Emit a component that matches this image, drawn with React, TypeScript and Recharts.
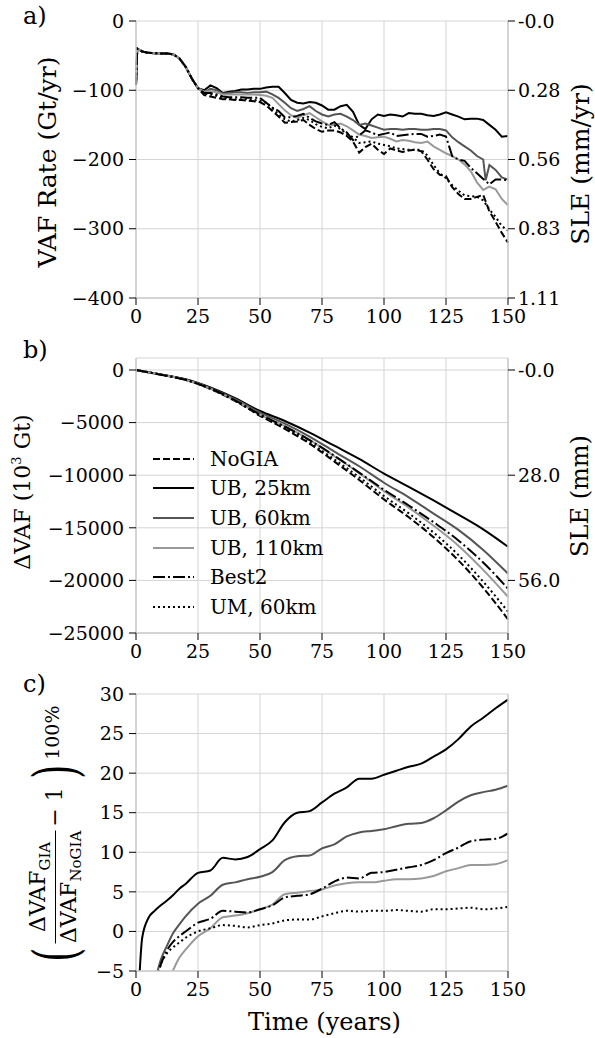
import React from "react";
import { LineChart, Line, XAxis, YAxis, CartesianGrid } from "recharts";

const FONT = "'DejaVu Serif', serif";
const SPINE = "#cccccc";
const GRID = "#d4d4d4";

// ---- panel a: VAF rate (Gt/yr) ----
const rateYears = [
  0, 0.5, 2.5, 5, 7.5, 10, 12.5, 15, 17.5, 20, 22.5, 25, 27.5, 30, 32.5, 35, 37.5, 40, 42.5, 45,
  47.5, 50, 52.5, 55, 57.5, 60, 62.5, 65, 67.5, 70, 72.5, 75, 77.5, 80, 82.5, 85, 87.5, 90, 92.5,
  95, 97.5, 100, 102.5, 105, 107.5, 110, 112.5, 115, 117.5, 120, 122.5, 125, 127.5, 130, 132.5,
  135, 137.5, 140, 141, 142.5, 145, 147.5, 150,
];
// shared start (0 - 25 yr), all runs identical there
const rateStart = [-92, -40, -44, -46, -46.5, -47, -47, -48, -54, -66, -83, -97];
const rateNoGIA = [...rateStart,
  -107, -109, -111, -113, -113, -114, -114, -115, -116, -117,
  -122, -130, -138, -147, -146, -145, -143, -150, -156, -160,
  -158, -158, -161, -166, -174, -190, -182, -177, -186, -192,
  -184, -187, -189, -187, -186, -188, -200, -214, -222, -224,
  -240, -250, -257, -257, -254, -251, null, -275, -290, -306, -320];
const rateUB25 = [...rateStart,
  -100, -93, -97, -104, -102, -101, -99, -99, -98, -98,
  -96, -95, -95, -104, -114, -118, -119, -117, -118, -122,
  -128, -128, -123, -121, -131, -150, -156, -142, -135, -137,
  -135, -136, -138, -133, -134, -134, -136, -137, -135, -132,
  -135, -138, -142, -141, -141, -143, null, -150, -157, -167, -166];
const rateUB60 = [...rateStart,
  -103, -98, -100, -105, -104, -103, -103, -104, -103, -103,
  -102, -106, -111, -118, -126, -130, -127, -123, -130, -135,
  -138, -135, -134, -138, -143, -150, -148, -151, -154, -157,
  -156, -156, -157, -156, -156, -157, -157, -156, -156, -158,
  -168, -175, -181, -187, -195, -200, -230, -208, -215, -226, -229];
const rateUB110 = [...rateStart,
  -102, -101, -103, -106, -106, -106, -106, -106, -106, -107,
  -108, -111, -120, -129, -136, -140, -136, -133, -139, -145,
  -150, -150, -148, -152, -158, -164, -166, -169, -168, -167,
  -170, -174, -172, -173, -175, -176, -174, -181, -186, -191,
  -195, -200, -207, -217, -233, -244, null, -239, -243, -257, -266];
const rateBest2 = [...rateStart,
  -104, -104, -106, -109, -110, -110, -110, -111, -111, -111,
  -118, -125, -130, -139, -139, -137, -134, -140, -145, -148,
  -150, -146, -155, -161, -172, -165, -158, -161, -165, -163,
  -161, -166, -165, -164, -163, -163, -167, -166, -164, -167,
  -195, -200, -202, -212, -220, -228, null, -236, -229, -229, -230];
const rateUM60 = [...rateStart,
  -105, -106, -108, -111, -112, -113, -113, -113, -114, -115,
  -118, -126, -135, -142, -145, -143, -140, -143, -149, -153,
  -155, -151, -156, -163, -168, -176, -175, -174, -177, -179,
  -181, -184, -185, -186, -186, -186, -194, -208, -220, -227,
  -237, -245, -252, -253, -254, -259, null, -272, -283, -296, -303];
const rateTicks = [0, -100, -200, -300, -400];
const rateSLE = ["-0.0", "0.28", "0.56", "0.83", "1.11"];

// ---- panel b: cumulative change in VAF ----
const cumYears = [0, 10, 20, 30, 40, 50, 60, 70, 80, 90, 100, 110, 120, 130, 140, 150];
const cumNoGIA = [0, -430, -930, -1800, -2950, -4350, -5600, -7000, -8700, -10450, -12300, -14000, -15900, -18100, -20700, -23700];
const cumUB25 = [0, -420, -880, -1660, -2680, -3900, -4850, -5950, -7200, -8450, -9850, -11100, -12400, -13750, -15150, -16800];
const cumUB60 = [0, -440, -910, -1720, -2770, -4050, -5100, -6330, -7760, -9150, -10720, -12100, -13650, -15200, -17100, -19350];
const cumUB110 = [0, -450, -950, -1790, -2900, -4230, -5340, -6640, -8200, -9800, -11520, -13080, -14800, -16700, -19000, -21560];
const cumBest2 = [0, -450, -930, -1770, -2880, -4230, -5370, -6670, -8150, -9750, -11380, -12880, -14470, -16200, -18300, -20780];
const cumUM60 = [0, -450, -940, -1790, -2930, -4320, -5520, -6900, -8500, -10190, -11980, -13630, -15460, -17580, -20120, -22970];
const cumTicks = [0, -5000, -10000, -15000, -20000, -25000];
const cumSLETicks = [0, -10000, -20000];
const cumSLE = ["-0.0", "28.0", "56.0"];

// ---- panel c: relative difference to NoGIA (%) ----
const ratioYears = [1, 2.5, 5, 7.5, 10, 12.5, 15, 17.5, 20, 25, 30, 35, 40, 45, 50, 55, 60, 65, 70, 75, 80, 85, 90, 95, 100, 105, 110, 115, 120, 125, 130, 135, 140, 145, 150];
const ratioUB25 = [-8, -0.8, 1.7, 2.6, 3.3, 3.9, 4.6, 5.4, 6.0, 7.4, 7.7, 9.3, 9.1, 9.4, 10.4, 11.5, 13.8, 15.0, 15.2, 16.3, 17.4, 18.2, 19.3, 19.3, 19.8, 20.3, 20.8, 21.2, 22.1, 23.0, 24.3, 25.9, 27.0, 28.2, 29.3];
const ratioUB60 = [null, null, null, -6.5, -3.6, -1.8, -0.2, 0.9, 1.9, 3.5, 4.5, 5.9, 6.2, 6.6, 6.9, 7.5, 9.0, 9.5, 9.6, 10.5, 11.0, 12.0, 12.5, 12.7, 12.9, 13.3, 13.6, 13.7, 14.3, 15.3, 16.4, 17.2, 17.6, 17.9, 18.4];
const ratioUB110 = [null, null, null, null, null, -7.0, -4.9, -3.3, -2.3, -0.6, 0.4, 1.8, 2.0, 2.3, 2.8, 3.4, 4.7, 4.9, 5.1, 5.3, 5.8, 6.1, 6.2, 6.2, 6.4, 6.6, 6.6, 6.7, 7.0, 7.6, 8.0, 8.4, 8.4, 8.5, 9.0];
const ratioBest2 = [null, null, null, -7, -4.2, -2.4, -1.3, -0.6, 0.0, 1.1, 1.6, 2.6, 2.5, 2.4, 2.8, 3.3, 4.3, 4.5, 4.7, 5.4, 6.3, 6.8, 6.7, 7.4, 7.5, 7.8, 8.1, 8.4, 9.0, 9.9, 10.6, 11.4, 11.6, 11.7, 12.4];
const ratioUM60 = [null, null, null, -7, -4.2, -2.75, -2.0, -1.4, -0.8, 0.0, 0.4, 0.8, 0.7, 0.5, 0.8, 1.0, 1.4, 1.5, 1.5, 1.9, 2.3, 2.6, 2.5, 2.6, 2.6, 2.7, 2.6, 2.5, 2.8, 2.8, 2.9, 3.0, 2.8, 2.9, 3.1];
const ratioTicks = [-5, 0, 5, 10, 15, 20, 25, 30];

const yearTicks = [0, 25, 50, 75, 100, 125, 150];

const series = [
  { key: "NoGIA", name: "NoGIA", color: "#000000", dash: "7 3" },
  { key: "UB25", name: "UB, 25km", color: "#000000", dash: undefined },
  { key: "UB60", name: "UB, 60km", color: "#555555", dash: undefined },
  { key: "UB110", name: "UB, 110km", color: "#999999", dash: undefined },
  { key: "Best2", name: "Best2", color: "#000000", dash: "12 3 2 3" },
  { key: "UM60", name: "UM, 60km", color: "#000000", dash: "2 3" },
];

const rateData = rateYears.map((t, i) => ({
  t, NoGIA: rateNoGIA[i], UB25: rateUB25[i], UB60: rateUB60[i],
  UB110: rateUB110[i], Best2: rateBest2[i], UM60: rateUM60[i],
}));
const cumData = cumYears.map((t, i) => ({
  t, NoGIA: cumNoGIA[i], UB25: cumUB25[i], UB60: cumUB60[i],
  UB110: cumUB110[i], Best2: cumBest2[i], UM60: cumUM60[i],
}));
const ratioData = ratioYears.map((t, i) => ({
  t, UB25: ratioUB25[i], UB60: ratioUB60[i], UB110: ratioUB110[i],
  Best2: ratioBest2[i], UM60: ratioUM60[i],
}));

const minus = (v: number) => (v < 0 ? "\u2212" + Math.abs(v) : String(v));
const tickStyle = { fill: "#000", fontSize: 19, fontFamily: FONT };

interface PanelProps {
  top: number;
  height: number;
  marginTop: number;
  data: any[];
  keys: string[];
  domain: [number, number];
  ticks: number[];
  rightTicks?: number[];
  rightLabels?: string[];
  type?: "linear" | "monotone";
}

function Panel({ top, height, marginTop, data, keys, domain, ticks, rightTicks, rightLabels, type = "linear" }: PanelProps) {
  return (
    <div style={{ position: "absolute", left: 0, top }}>
      <LineChart width={595} height={height} data={data} margin={{ top: marginTop, right: 0, bottom: 0, left: 0 }}>
        <CartesianGrid stroke={GRID} strokeWidth={1} />
        <XAxis
          dataKey="t"
          type="number"
          domain={[0, 150]}
          ticks={yearTicks}
          height={32}
          tickSize={7}
          tickMargin={5}
          tick={tickStyle}
          tickLine={{ stroke: "#000" }}
          axisLine={{ stroke: SPINE, strokeWidth: 1.5 }}
        />
        <XAxis
          xAxisId="top"
          orientation="top"
          dataKey="t"
          type="number"
          domain={[0, 150]}
          height={0}
          tick={false}
          tickLine={false}
          axisLine={{ stroke: SPINE, strokeWidth: 1.5 }}
        />
        <YAxis
          type="number"
          domain={domain}
          ticks={ticks}
          allowDataOverflow
          width={136}
          tickSize={7}
          tickMargin={5}
          tick={tickStyle}
          tickFormatter={minus}
          tickLine={{ stroke: "#000" }}
          axisLine={{ stroke: SPINE, strokeWidth: 1.5 }}
        />
        <YAxis
          yAxisId="right"
          orientation="right"
          type="number"
          domain={domain}
          ticks={rightTicks ?? []}
          allowDataOverflow
          width={87}
          tickSize={rightTicks ? 7 : 0}
          tickMargin={3}
          tick={rightTicks ? tickStyle : false}
          tickFormatter={(v: number) => (rightTicks && rightLabels ? rightLabels[rightTicks.indexOf(v)] ?? "" : "")}
          tickLine={rightTicks ? { stroke: "#000" } : false}
          axisLine={{ stroke: SPINE, strokeWidth: 1.5 }}
        />
        {series
          .filter((s) => keys.includes(s.key))
          .map((s) => (
            <Line
              key={s.key}
              dataKey={s.key}
              type={type}
              stroke={s.color}
              strokeWidth={2}
              strokeDasharray={s.dash}
              dot={false}
              activeDot={false}
              connectNulls
              isAnimationActive={false}
            />
          ))}
      </LineChart>
    </div>
  );
}

function VLabel({ x, y, size = 24, children }: { x: number; y: number; size?: number; children: React.ReactNode }) {
  return (
    <div
      style={{
        position: "absolute",
        left: x,
        top: y,
        transform: "translate(-50%, -50%) rotate(-90deg)",
        whiteSpace: "nowrap",
        fontFamily: FONT,
        fontSize: size,
        color: "#000",
        lineHeight: 1,
      }}
    >
      {children}
    </div>
  );
}

function Text({ x, y, size = 24, children }: { x: number; y: number; size?: number; children: React.ReactNode }) {
  return (
    <div style={{ position: "absolute", left: x, top: y, fontFamily: FONT, fontSize: size, color: "#000", lineHeight: 1, whiteSpace: "nowrap" }}>
      {children}
    </div>
  );
}

const paren = { display: "inline-block", fontSize: 60, transform: "scaleX(0.6)", lineHeight: 1 };

export default function App() {
  const allKeys = series.map((s) => s.key);
  return (
    <div style={{ position: "absolute", left: 0, top: 0, width: 595, height: 1038, background: "#fff", fontFamily: FONT }}>
      <Panel top={0} height={330} marginTop={21} data={rateData} keys={allKeys} domain={[-400, 0]} ticks={rateTicks} rightTicks={rateTicks} rightLabels={rateSLE} />
      <Panel top={340} height={325} marginTop={18} data={cumData} keys={allKeys} domain={[-25000, 1140]} ticks={cumTicks} rightTicks={cumSLETicks} rightLabels={cumSLE} type="monotone" />
      <Panel top={680} height={323} marginTop={14} data={ratioData} keys={allKeys.filter((k) => k !== "NoGIA")} domain={[-5, 30]} ticks={ratioTicks} type="monotone" />

      <Text x={23} y={4} size={24}>a)</Text>
      <Text x={23} y={338} size={24}>b)</Text>
      <Text x={23} y={672} size={24}>c)</Text>

      <VLabel x={47} y={162} size={25}>VAF Rate (Gt/yr)</VLabel>
      <VLabel x={580} y={164} size={25}>SLE (mm/yr)</VLabel>
      <VLabel x={22} y={492} size={22}>
        ΔVAF (10<sup style={{ fontSize: 13 }}>3</sup> Gt)
      </VLabel>
      <VLabel x={580} y={496} size={24}>SLE (mm)</VLabel>

      <VLabel x={55} y={836} size={22}>
        <div style={{ display: "flex", alignItems: "center" }}>
          <span style={paren}>(</span>
          <span style={{ display: "inline-flex", flexDirection: "column", alignItems: "center", lineHeight: 1.1 }}>
            <span>
              ΔVAF<sub style={{ fontSize: 15 }}>GIA</sub>
            </span>
            <span style={{ alignSelf: "stretch", borderTop: "1.5px solid #000", margin: "1px 0" }} />
            <span>
              ΔVAF<sub style={{ fontSize: 15 }}>NoGIA</sub>
            </span>
          </span>
          <span style={{ margin: "0 4px" }}>− 1</span>
          <span style={paren}>)</span>
          <span style={{ fontSize: 19, marginTop: -6 }}>100%</span>
        </div>
      </VLabel>

      <Text x={248} y={1010} size={24}>Time (years)</Text>

      {/* legend of panel b */}
      <div style={{ position: "absolute", left: 152, top: 444, fontFamily: FONT, fontSize: 20 }}>
        {series.map((s) => (
          <div key={s.key} style={{ display: "flex", alignItems: "center", height: 29.6 }}>
            <svg width={44} height={6} style={{ marginRight: 14 }}>
              <line x1={1} y1={3} x2={42} y2={3} stroke={s.color} strokeWidth={2} strokeDasharray={s.dash} />
            </svg>
            <span>{s.name}</span>
          </div>
        ))}
      </div>
    </div>
  );
}
